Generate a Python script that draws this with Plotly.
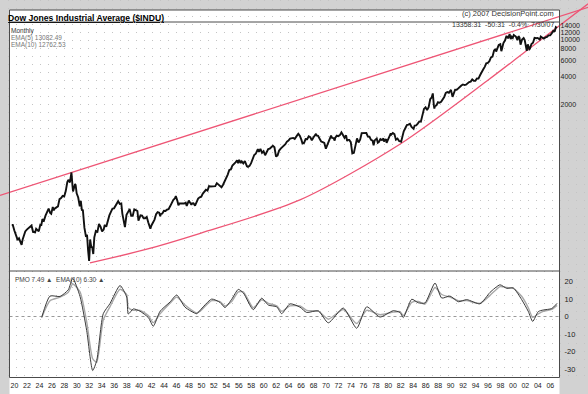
import math
import plotly.graph_objects as go

W, H = 588, 394

# ---------------- DATA ----------------
# Dow Jones Industrial Average, monthly closes (approx.)
dow_month = [
    "1920-01", "1920-03", "1920-06", "1920-09", "1920-11", "1920-12",
    "1921-03", "1921-06", "1921-08", "1921-10", "1921-12",
    "1922-03", "1922-06", "1922-09", "1922-12",
    "1923-03", "1923-06", "1923-10", "1923-12",
    "1924-03", "1924-05", "1924-08", "1924-10", "1924-12",
    "1925-03", "1925-06", "1925-09", "1925-12",
    "1926-03", "1926-05", "1926-08", "1926-10", "1926-12",
    "1927-03", "1927-06", "1927-09", "1927-12",
    "1928-03", "1928-06", "1928-09", "1928-11", "1928-12",
    "1929-02", "1929-05", "1929-08", "1929-09", "1929-10", "1929-11", "1929-12",
    "1930-03", "1930-04", "1930-06", "1930-09", "1930-12",
    "1931-02", "1931-04", "1931-06", "1931-09", "1931-12",
    "1932-02", "1932-04", "1932-06", "1932-07", "1932-08", "1932-10", "1932-12",
    "1933-02", "1933-04", "1933-07", "1933-10", "1933-12",
    "1934-01", "1934-04", "1934-07", "1934-10", "1934-12",
    "1935-03", "1935-06", "1935-09", "1935-12",
    "1936-03", "1936-06", "1936-09", "1936-12",
    "1937-02", "1937-05", "1937-08", "1937-10", "1937-12",
    "1938-03", "1938-06", "1938-09", "1938-11", "1938-12",
    "1939-03", "1939-06", "1939-09", "1939-12",
    "1940-03", "1940-05", "1940-09", "1940-12",
    "1941-03", "1941-06", "1941-09", "1941-12",
    "1942-04", "1942-06", "1942-09", "1942-12",
    "1943-03", "1943-06", "1943-09", "1943-11", "1943-12",
    "1944-03", "1944-06", "1944-09", "1944-12",
    "1945-03", "1945-06", "1945-09", "1945-12",
    "1946-03", "1946-05", "1946-08", "1946-10", "1946-12",
    "1947-03", "1947-06", "1947-09", "1947-12",
    "1948-02", "1948-06", "1948-09", "1948-11", "1948-12",
    "1949-03", "1949-06", "1949-09", "1949-12",
    "1950-03", "1950-06", "1950-09", "1950-12",
    "1951-03", "1951-06", "1951-09", "1951-12",
    "1952-03", "1952-06", "1952-09", "1952-12",
    "1953-03", "1953-06", "1953-09", "1953-12",
    "1954-03", "1954-06", "1954-09", "1954-12",
    "1955-03", "1955-06", "1955-09", "1955-12",
    "1956-03", "1956-05", "1956-07", "1956-10", "1956-12",
    "1957-03", "1957-06", "1957-09", "1957-10", "1957-12",
    "1958-03", "1958-06", "1958-09", "1958-12",
    "1959-03", "1959-07", "1959-09", "1959-12",
    "1960-03", "1960-06", "1960-09", "1960-12",
    "1961-03", "1961-06", "1961-09", "1961-12",
    "1962-03", "1962-06", "1962-09", "1962-12",
    "1963-03", "1963-06", "1963-09", "1963-12",
    "1964-03", "1964-06", "1964-09", "1964-12",
    "1965-03", "1965-06", "1965-09", "1965-12",
    "1966-01", "1966-04", "1966-07", "1966-09", "1966-12",
    "1967-03", "1967-06", "1967-09", "1967-12",
    "1968-03", "1968-06", "1968-09", "1968-11", "1968-12",
    "1969-03", "1969-06", "1969-09", "1969-12",
    "1970-03", "1970-06", "1970-09", "1970-12",
    "1971-04", "1971-06", "1971-09", "1971-11", "1971-12",
    "1972-03", "1972-06", "1972-09", "1972-12",
    "1973-01", "1973-03", "1973-06", "1973-09", "1973-11", "1973-12",
    "1974-03", "1974-06", "1974-09", "1974-12",
    "1975-03", "1975-06", "1975-09", "1975-12",
    "1976-03", "1976-06", "1976-09", "1976-12",
    "1977-03", "1977-06", "1977-09", "1977-12",
    "1978-02", "1978-04", "1978-08", "1978-10", "1978-12",
    "1979-03", "1979-06", "1979-09", "1979-10", "1979-12",
    "1980-02", "1980-03", "1980-06", "1980-09", "1980-11", "1980-12",
    "1981-03", "1981-06", "1981-09", "1981-12",
    "1982-03", "1982-07", "1982-09", "1982-12",
    "1983-03", "1983-06", "1983-09", "1983-12",
    "1984-03", "1984-07", "1984-09", "1984-12",
    "1985-03", "1985-06", "1985-09", "1985-12",
    "1986-03", "1986-06", "1986-09", "1986-12",
    "1987-03", "1987-06", "1987-08", "1987-10", "1987-11", "1987-12",
    "1988-03", "1988-06", "1988-09", "1988-12",
    "1989-03", "1989-06", "1989-09", "1989-12",
    "1990-03", "1990-07", "1990-10", "1990-12",
    "1991-03", "1991-06", "1991-09", "1991-12",
    "1992-03", "1992-06", "1992-09", "1992-12",
    "1993-03", "1993-06", "1993-09", "1993-12",
    "1994-03", "1994-06", "1994-09", "1994-12",
    "1995-03", "1995-06", "1995-09", "1995-12",
    "1996-03", "1996-06", "1996-09", "1996-12",
    "1997-03", "1997-06", "1997-09", "1997-10", "1997-12",
    "1998-03", "1998-06", "1998-08", "1998-09", "1998-12",
    "1999-03", "1999-06", "1999-09", "1999-12",
    "2000-02", "2000-04", "2000-06", "2000-08", "2000-10", "2000-12",
    "2001-03", "2001-05", "2001-07", "2001-09", "2001-12",
    "2002-03", "2002-05", "2002-07", "2002-09", "2002-11", "2002-12",
    "2003-02", "2003-03", "2003-06", "2003-09", "2003-12",
    "2004-03", "2004-06", "2004-10", "2004-12",
    "2005-03", "2005-06", "2005-09", "2005-12",
    "2006-03", "2006-06", "2006-09", "2006-12",
    "2007-02", "2007-03", "2007-05", "2007-06", "2007-07",
]
dow_close = [
    104, 104, 91, 83, 76, 72,
    75, 68, 64, 73, 81,
    89, 93, 97, 99,
    103, 88, 87, 95,
    92, 89, 105, 104, 120,
    116, 131, 145, 156,
    140, 137, 162, 150, 157,
    161, 165, 197, 202,
    213, 210, 240, 290, 300,
    317, 297, 380, 343, 273, 238, 248,
    286, 279, 227, 205, 165,
    189, 151, 150, 97, 78,
    82, 56, 43, 54, 73, 61, 60,
    51, 77, 90, 88, 100,
    107, 100, 89, 93, 104,
    100, 119, 132, 144,
    156, 157, 167, 180,
    187, 175, 177, 138, 121,
    99, 134, 141, 150, 155,
    131, 131, 153, 150,
    147, 116, 132, 131,
    123, 123, 127, 111,
    95, 103, 109, 119,
    136, 143, 141, 129, 136,
    138, 148, 147, 152,
    154, 165, 180, 193,
    200, 212, 189, 169, 177,
    177, 177, 177, 181,
    167, 190, 178, 171, 177,
    178, 168, 182, 200,
    206, 209, 226, 235,
    248, 243, 271, 269,
    270, 274, 271, 292,
    280, 268, 264, 281,
    304, 334, 361, 404,
    409, 451, 466, 488,
    512, 478, 518, 480, 500,
    475, 503, 456, 441, 436,
    447, 478, 532, 584,
    602, 675, 632, 679,
    617, 641, 580, 616,
    676, 684, 701, 731,
    706, 561, 579, 652,
    683, 707, 733, 763,
    813, 832, 875, 874,
    889, 868, 931, 969,
    983, 933, 847, 774, 786,
    865, 860, 927, 905,
    840, 898, 935, 985, 944,
    935, 873, 813, 800,
    786, 683, 760, 839,
    941, 891, 887, 831, 890,
    940, 929, 953, 1020,
    999, 951, 892, 947, 822, 851,
    847, 802, 608, 616,
    769, 879, 794, 852,
    1000, 1003, 990, 1004,
    919, 916, 847, 831,
    742, 837, 876, 792, 805,
    862, 842, 878, 815, 839,
    863, 786, 867, 932, 993, 964,
    1004, 977, 850, 875,
    823, 809, 896, 1047,
    1130, 1222, 1233, 1259,
    1165, 1115, 1207, 1212,
    1267, 1336, 1329, 1547,
    1819, 1893, 1768, 1896,
    2305, 2419, 2663, 1994, 1834, 1939,
    1989, 2142, 2113, 2169,
    2293, 2440, 2693, 2753,
    2707, 2905, 2442, 2634,
    2914, 2907, 3017, 3169,
    3236, 3319, 3272, 3301,
    3436, 3516, 3555, 3754,
    3636, 3625, 3843, 3834,
    4158, 4556, 4789, 5117,
    5587, 5655, 5882, 6448,
    6584, 7673, 7945, 7442, 7908,
    8800, 8952, 7539, 7843, 9181,
    9786, 10971, 10337, 11497,
    10128, 10734, 10448, 11215, 10971, 10787,
    9879, 10912, 10523, 8848, 10022,
    10404, 9925, 8737, 7592, 8896, 8342,
    7891, 7992, 8985, 9275, 10454,
    10358, 10435, 10027, 10783,
    10504, 10275, 10569, 10718,
    11109, 11150, 11679, 12463,
    12269, 12354, 13628, 13409, 13358,
]
assert len(dow_month) == len(dow_close)

# Hand-drawn trend lines (anchor points)
resist_year = [1918.15, 2012.55]
resist_value = [216, 22200]
support_year = [1932.6, 1941.1, 1950.3, 1966.3, 1982.4, 1996.3, 2002.4, 2012.55]
support_value = [41, 56, 85, 193, 766, 3612, 7380, 24150]

# Price Momentum Oscillator panel
pmo_year = [1924.85, 1926.18, 1927.79, 1929.12, 1929.82, 1931.0, 1932.07, 1933.03,
            1933.68, 1934.73, 1935.8, 1937.42, 1938.49, 1938.75, 1939.55, 1940.63,
            1941.96, 1942.76, 1943.84, 1945.44, 1946.52, 1947.85, 1949.73, 1950.26,
            1952.13, 1953.47, 1954.27, 1955.35, 1956.4, 1957.21, 1958.81, 1960.16,
            1961.22, 1962.57, 1963.37, 1964.7, 1966.31, 1967.38, 1969.25, 1970.85,
            1973.26, 1975.41, 1977.01, 1979.15, 1981.28, 1982.36, 1982.89, 1984.24,
            1985.3, 1986.37, 1987.98, 1989.05, 1990.39, 1991.72, 1993.07, 1995.2,
            1996.81, 1998.41, 1999.49, 2000.55, 2001.89, 2002.95, 2003.66, 2004.56,
            2005.36, 2006.71, 2007.58]
pmo_value = [-0.5, 11.6, 11.4, 15.2, 21.8, 11.4, -8, -30.7,
             -25, 1.6, 7.3, 17.6, 11, 1.4, 4.3, 3,
             -0.6, -5.5, 2.9, 8.2, 12.2, 5.3, 1.6, 3.5,
             9.9, 8.0, 5.1, 9.8, 15.4, 13.4, 3.9, 10.4,
             6.5, 5.5, 1.6, 7.2, 5.3, 2.3, 3.2, -3.6,
             4.8, -6.7, 5.5, -0.3, 3.3, 2.3, -0.6, 9.8,
             7.8, 7.7, 19, 10.5, 11.6, 8.4, 9.6, 7.2,
             13.7, 18, 16, 16.2, 9.6, 2.9, -2.8, 2.8,
             3.7, 4.5, 7.49]
pmo_signal = [-0.5, 9.0, 11.0, 13.8, 18.5, 14.0, -3, -24,
              -26, -2, 5.5, 15.5, 12.5, 5, 3.5, 3.5,
              0.5, -3.5, 1.5, 7.5, 11.0, 6.5, 2.0, 3.0,
              9.0, 8.5, 6.0, 8.5, 14.0, 14.0, 5.0, 9.5,
              7.5, 6.0, 3.0, 6.0, 6.0, 3.5, 3.0, -1.5,
              4.0, -4.0, 3.5, 1.0, 2.5, 2.8, 0.5, 8.0,
              8.5, 7.0, 16.5, 12.5, 11.0, 9.0, 9.0, 7.5,
              12.0, 17.0, 16.5, 16.0, 11.5, 5.0, -0.5, 1.5,
              3.0, 4.0, 6.30]

price_ticks = [2000, 4000, 6000, 8000, 10000, 12000, 14000]
pmo_ticks = [20, 10, 0, -10, -20, -30]
year_ticks = list(range(1920, 2007, 2))
year_labels = ["%02d" % (y % 100) for y in year_ticks]

# ---------------- helpers ----------------
def month_to_year(s):
    y, m = s.split("-")
    return int(y) + (int(m) - 0.5) / 12.0

dow_x = [month_to_year(s) for s in dow_month]

def px(x):
    return x / W

def py(y):
    return 1 - y / H

FONT = "Liberation Sans, Arial, sans-serif"
GRAY_FRAME = "#d2d2d2"
LINE_C = "#4a4a4a"
RED = "#ee5575"

# pixel layout
X_LEFT, X_RIGHT = 9.5, 559.5
Y_HEAD, Y_TOP, Y_DIV, Y_BOT = 10, 22, 271, 377.5

fig = go.Figure()

# trend lines
fig.add_trace(go.Scatter(x=resist_year, y=resist_value, mode="lines",
                         line=dict(color=RED, width=1.3), hoverinfo="skip",
                         xaxis="x", yaxis="y", showlegend=False))
fig.add_trace(go.Scatter(x=support_year, y=support_value, mode="lines",
                         line=dict(color=RED, width=1.3, shape="spline", smoothing=0.8),
                         hoverinfo="skip", xaxis="x", yaxis="y", showlegend=False))
# price
fig.add_trace(go.Scatter(x=dow_x, y=dow_close, mode="lines",
                         line=dict(color="#111111", width=1.9),
                         xaxis="x", yaxis="y", showlegend=False))
# PMO
fig.add_trace(go.Scatter(x=pmo_year, y=pmo_signal, mode="lines",
                         line=dict(color="#a8a8a8", width=1.4, shape="spline", smoothing=0.6),
                         xaxis="x", yaxis="y2", showlegend=False))
fig.add_trace(go.Scatter(x=pmo_year, y=pmo_value, mode="lines",
                         line=dict(color="#3a3a3a", width=1, shape="spline", smoothing=0.6),
                         xaxis="x", yaxis="y2", showlegend=False))

# axis mapping: x pixel 11.5 -> 1920.0, 6.23 px/year
PX_PER_YEAR = 6.23
x0 = 1920 - 11.5 / PX_PER_YEAR
x1 = 1920 + (W - 11.5) / PX_PER_YEAR

# main log axis: 14000 at pixel 26, 93.5 px per decade
L14 = math.log10(14000)
y_top_log = L14 + 26 / 93.5
y_bot_log = L14 - (Y_DIV - 26) / 93.5

# PMO axis: 0 at pixel 316.5, 1.76 px per unit
p_top = (316.5 - Y_DIV) / 1.76
p_bot = -(Y_BOT - 316.5) / 1.76

shapes = []
# grey frame bands
for (a, b, c, d) in [(0, 0, W, Y_HEAD), (0, Y_HEAD, X_LEFT, H), (X_RIGHT, Y_HEAD, W, H)]:
    shapes.append(dict(type="rect", xref="paper", yref="paper", layer="below",
                       x0=px(a), x1=px(c), y0=py(d), y1=py(b),
                       fillcolor=GRAY_FRAME, line=dict(width=0)))
# frame lines
for (a, b, c, d) in [(X_LEFT, Y_HEAD, X_RIGHT, Y_HEAD), (X_LEFT, Y_TOP, X_RIGHT, Y_TOP),
                     (X_LEFT, Y_DIV, X_RIGHT, Y_DIV), (X_LEFT, Y_BOT, X_RIGHT, Y_BOT),
                     (X_LEFT, Y_HEAD, X_LEFT, Y_BOT), (X_RIGHT, Y_HEAD, X_RIGHT, Y_BOT)]:
    shapes.append(dict(type="line", xref="paper", yref="paper", layer="above",
                       x0=px(a), x1=px(c), y0=py(b), y1=py(d),
                       line=dict(color=LINE_C, width=1)))
# PMO zero line
shapes.append(dict(type="line", xref="paper", yref="y2", layer="below",
                   x0=px(X_LEFT), x1=px(X_RIGHT), y0=0, y1=0,
                   line=dict(color="#999999", width=1, dash="dot")))

ann = []
def text(x, y, s, size, color="#222222", anchor="left"):
    ann.append(dict(x=px(x), y=py(y), xref="paper", yref="paper", text=s,
                    showarrow=False, xanchor=anchor, yanchor="middle",
                    font=dict(family=FONT, size=size, color=color)))

text(6, 18, "<b><span style='text-decoration:underline'>Dow Jones Industrial Average ($INDU)</span></b>", 8.6, "#000000")
text(556, 14, "(c) 2007 DecisionPoint.com", 7.5, "#333333", anchor="right")
text(556, 24.5, "13358.31  -50.31  -0.4%  7/30/07", 7, "#333333", anchor="right")
text(9, 30.5, "Monthly", 6.5, "#333333")
text(9, 38, "EMA(5) 13082.49", 6.5, "#777777")
text(9, 45, "EMA(10) 12762.53", 6.5, "#777777")
text(13, 280, "PMO 7.49 \u25b2  EMA(10) 6.30 \u25b2", 6.5, "#444444")

fig.update_layout(
    width=W, height=H,
    margin=dict(l=0, r=0, t=0, b=0),
    paper_bgcolor="white",
    plot_bgcolor="rgba(0,0,0,0)",
    showlegend=False,
    shapes=shapes,
    annotations=ann,
    xaxis=dict(domain=[0, 1], range=[x0, x1], anchor="y2",
               tickmode="array", tickvals=year_ticks, ticktext=year_labels,
               ticks="", showgrid=False, zeroline=False, showline=False,
               ticklabelshift=3, ticklabelstandoff=2,
               tickfont=dict(family=FONT, size=7, color="#222222"),
               minor=dict(dtick=1.284, tick0=1918.3, showgrid=True,
                          gridcolor="#c4c4c4", griddash="1px,7px", gridwidth=1, ticks="")),
    yaxis=dict(type="log", domain=[py(Y_DIV), 1], range=[y_bot_log, y_top_log],
               anchor="free", position=px(X_RIGHT), side="right",
               tickmode="array", tickvals=price_ticks, ticktext=[str(v) for v in price_ticks],
               ticks="", showgrid=False, zeroline=False, showline=False,
               tickfont=dict(family=FONT, size=7, color="#222222")),
    yaxis2=dict(domain=[py(Y_BOT), py(Y_DIV)], range=[p_bot, p_top],
                anchor="free", position=px(X_RIGHT), side="right",
                tickmode="array", tickvals=pmo_ticks, ticktext=[str(v) for v in pmo_ticks],
                ticks="", showgrid=False, zeroline=False, showline=False,
                ticklabelstandoff=4,
                tickfont=dict(family=FONT, size=7.5, color="#222222")),
)

fig.write_html(
    "out.html",
    config={"displayModeBar": False, "staticPlot": True},
    post_script="document.body.style.margin='0';document.body.style.overflow='hidden';",
)
